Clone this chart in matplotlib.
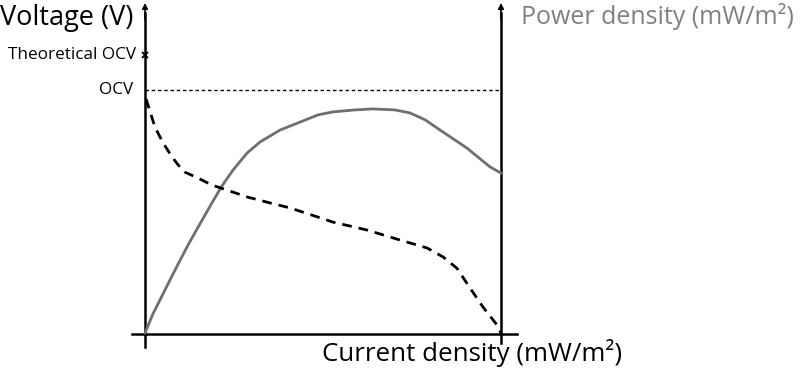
"""Fuel cell polarisation / power density sketch"""

import matplotlib.pyplot as plt

# values (arbitrary units, axes 0..10)
voltage_x = [0.03, 0.28, 0.51, 0.76, 0.93, 1.12, 1.49, 1.88, 2.30, 2.87, 3.51, 4.07,
             4.78, 5.28, 6.24, 7.16, 7.92, 8.37, 8.76, 9.13, 9.49, 9.89, 10.0]
voltage_y = [7.10, 6.25, 5.77, 5.35, 5.11, 4.89, 4.71, 4.50, 4.35, 4.14, 3.96, 3.81,
             3.56, 3.38, 3.14, 2.84, 2.60, 2.33, 1.99, 1.39, 0.82, 0.27, 0.03]

power_x = [0.0, 0.22, 0.56, 0.90, 1.21, 1.54, 1.88, 2.16, 2.47, 2.87, 3.23, 3.79,
           4.35, 4.86, 5.28, 5.90, 6.40, 7.02, 7.44, 7.87, 8.29, 9.04, 9.69, 10.0]
power_y = [0.03, 0.60, 1.33, 2.05, 2.69, 3.32, 3.96, 4.47, 4.95, 5.47, 5.80, 6.16,
           6.40, 6.62, 6.71, 6.77, 6.80, 6.77, 6.68, 6.47, 6.16, 5.62, 5.05, 4.86]

ocv = 7.37
theoretical_ocv = 8.43

plt.rcParams['font.family'] = ['Open Sans', 'DejaVu Sans']

fig = plt.figure(figsize=(8, 3.69), dpi=100)
ax = fig.add_axes([145 / 800, 35 / 369, 356 / 800, 331 / 369])
ax.set_xlim(0, 10)
ax.set_ylim(0, 10)
ax.axis('off')

# axes drawn by hand
ax.plot([0, 0], [-0.39, 9.7], color='black', lw=1.8, clip_on=False)
ax.plot([10, 10], [-0.27, 9.7], color='black', lw=1.8, clip_on=False)
ax.plot([-0.37, 10.45], [0, 0], color='black', lw=1.8, clip_on=False)
for xa in (0, 10):
    ax.annotate('', xy=(xa, 10.0), xytext=(xa, 9.5),
                arrowprops=dict(arrowstyle='-|>', color='black', lw=1.2,
                                mutation_scale=8, shrinkA=0, shrinkB=0),
                annotation_clip=False)

# curves
ax.plot(power_x, power_y, color='#6f6f6f', lw=2, clip_on=False, solid_joinstyle='round')
ax.plot(voltage_x, voltage_y, color='black', lw=2, dashes=(3.5, 2.5), clip_on=False)
ax.plot([0, 10], [ocv, ocv], color='black', lw=1, dashes=(2.5, 2), clip_on=False)
ax.plot([0], [theoretical_ocv], marker='x', color='black', ms=5, mew=1.3, clip_on=False)

# labels
fig.text(0.0, 351 / 369, 'Voltage (V)', fontsize=19.5, va='center', ha='left')
fig.text(136 / 800, 314 / 369, 'Theoretical OCV', fontsize=12.3, va='center', ha='right')
fig.text(133 / 800, 279 / 369, 'OCV', fontsize=12.3, va='center', ha='right')
fig.text(521 / 800, 352 / 369, 'Power density (mW/m²)', fontsize=18, color='#808080',
         va='center', ha='left')
fig.text(322 / 800, 16 / 369, 'Current density (mW/m²)', fontsize=18.6, va='center', ha='left')

fig.savefig('out.png', dpi=100)
